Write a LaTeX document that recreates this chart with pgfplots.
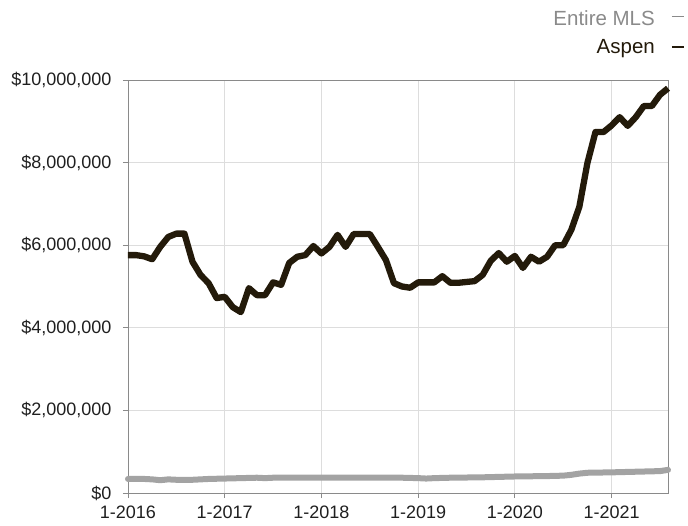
\documentclass[border=0pt]{standalone}
\usepackage{pgfplots}
\pgfplotsset{compat=1.18}
\usepackage{fontspec}
\setmainfont{Liberation Sans}

\definecolor{aspen}{HTML}{231A0A}
\definecolor{mls}{HTML}{A3A3A3}
\definecolor{gridc}{HTML}{DDDDDD}
\definecolor{boxc}{HTML}{8A8A8A}

% median price, millions of dollars, month 0 = Jan 2016
\pgfplotstableread{
m v
0 5.76
1 5.76
2 5.73
3 5.66
4 5.96
5 6.20
6 6.28
7 6.28
8 5.60
9 5.28
10 5.08
11 4.72
12 4.75
13 4.50
14 4.38
15 4.96
16 4.79
17 4.79
18 5.10
19 5.04
20 5.57
21 5.72
22 5.76
23 5.98
24 5.80
25 5.96
26 6.25
27 5.96
28 6.27
29 6.27
30 6.27
31 5.96
32 5.64
33 5.08
34 5.00
35 4.97
36 5.10
37 5.10
38 5.10
39 5.25
40 5.09
41 5.09
42 5.11
43 5.13
44 5.28
45 5.62
46 5.81
47 5.60
48 5.74
49 5.45
50 5.72
51 5.60
52 5.72
53 6.00
54 6.00
55 6.37
56 6.93
57 7.99
58 8.74
59 8.74
60 8.90
61 9.10
62 8.89
63 9.10
64 9.37
65 9.37
66 9.64
67 9.80
}\aspen

\pgfplotstableread{
m v
0 0.34
2 0.34
3 0.33
4 0.31
5 0.33
6 0.32
8 0.32
10 0.34
12 0.35
14 0.36
16 0.37
17 0.36
18 0.37
24 0.37
30 0.37
34 0.37
36 0.36
37 0.35
38 0.36
40 0.37
44 0.38
48 0.40
52 0.41
54 0.42
55 0.44
56 0.47
57 0.49
60 0.50
64 0.52
66 0.53
67 0.56
}\mls

\begin{document}
\begin{tikzpicture}
\begin{axis}[
    scale only axis,
    width=540pt, height=413pt,
    xmin=0, xmax=67,
    ymin=0, ymax=10,
    xtick={0,12,24,36,48,60},
    xticklabels={1-2016,1-2017,1-2018,1-2019,1-2020,1-2021},
    ytick={0,2,4,6,8,10},
    yticklabels={{\$0},{\$2,000,000},{\$4,000,000},{\$6,000,000},{\$8,000,000},{\$10,000,000}},
    tick label style={font=\fontsize{18}{20}\selectfont, text=black!88},
    tick align=outside,
    tick pos=left,
    major tick length=5pt,
    tick style={boxc, line width=0.8pt},
    axis line style={boxc, line width=0.8pt},
    grid=major,
    major grid style={gridc, line width=0.8pt},
    yticklabel style={xshift=-8pt},
    xticklabel style={yshift=-4pt},
    clip=false,
]
\coordinate (bl) at (rel axis cs:0,0);
\addplot[mls, line width=6pt, line join=round, line cap=round] table[x=m, y=v] {\mls};
\addplot[aspen, line width=6.3pt, line join=round] table[x=m, y=v] {\aspen};

\node[anchor=base east, inner sep=0pt, font=\fontsize{20.5}{22}\selectfont, text=boxc]
    at (axis description cs:0.976,1.133) {Entire MLS};
\draw[boxc, line width=1.2pt] (axis description cs:1.007,1.153) -- (axis description cs:1.030,1.153);
\node[anchor=base east, inner sep=0pt, font=\fontsize{20.5}{22}\selectfont, text=aspen]
    at (axis description cs:0.976,1.063) {Aspen};
\draw[aspen, line width=1.2pt] (axis description cs:1.007,1.080) -- (axis description cs:1.030,1.080);
\end{axis}
\pgfresetboundingbox
\path (bl) ++(-128pt,-32pt) rectangle ++(688pt,525pt);
\end{tikzpicture}
\end{document}
